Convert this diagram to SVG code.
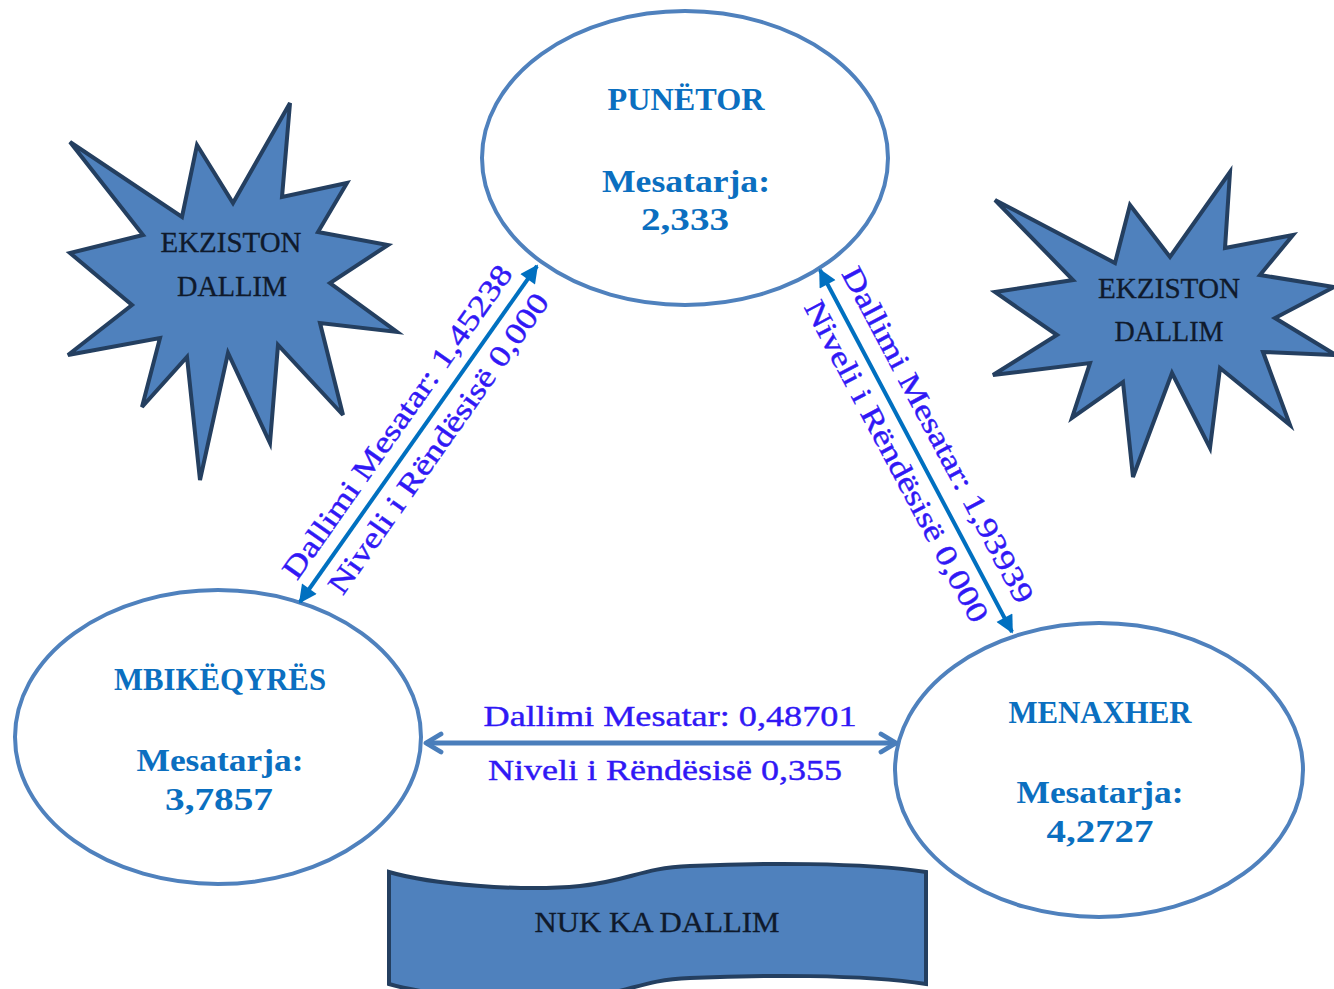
<svg xmlns="http://www.w3.org/2000/svg" width="1334" height="989" viewBox="0 0 1334 989">
<defs>
<style>
.node{fill:#ffffff;stroke:#4f81bd;stroke-width:4}
.burst{fill:#4f81bd;stroke:#243f60;stroke-width:4;stroke-linejoin:miter}
.title{font-family:"Liberation Serif",serif;font-weight:bold;font-size:32px;fill:#0b6fc0;text-anchor:middle}
.dark{font-family:"Liberation Serif",serif;font-size:29px;fill:#0f1a2c;text-anchor:middle;stroke:#0f1a2c;stroke-width:0.3}
.lbl{font-family:"Liberation Serif",serif;font-size:30px;fill:#3018f5;text-anchor:middle;stroke:#3018f5;stroke-width:0.4}
.diag{stroke:#0070c0;stroke-width:4;fill:none}
.hor{stroke:#4a7ebb;stroke-width:5;fill:none}
</style>
<marker id="tri" viewBox="0 0 10 10" refX="9" refY="5" markerWidth="20" markerHeight="18" markerUnits="userSpaceOnUse" orient="auto-start-reverse">
<path d="M0,0 L10,5 L0,10 Z" fill="#0070c0"/>
</marker>
<marker id="chev" viewBox="0 0 12 12" refX="10.5" refY="6" markerWidth="24" markerHeight="24" markerUnits="userSpaceOnUse" orient="auto-start-reverse">
<path d="M3,1.5 L10.5,6 L3,10.5" fill="none" stroke="#4a7ebb" stroke-width="2.4" stroke-linecap="round" stroke-linejoin="round"/>
</marker>
</defs>
<rect width="1334" height="989" fill="#ffffff"/>

<g id="burst-left">
<polygon class="burst" points="70,142 182,217 197,145 233,203 290,103 282,197 347,183 318,232 388,245 330,283 397,332 320,323 343,415 278,345 270,443 228,353 200,480 187,357 142,407 160,338 68,355 132,305 70,253 143,235"/>
<text class="dark" x="231" y="252" textLength="141" lengthAdjust="spacingAndGlyphs">EKZISTON</text>
<text class="dark" x="232" y="296" textLength="110" lengthAdjust="spacingAndGlyphs">DALLIM</text>
</g>

<g id="burst-right">
<polygon class="burst" points="995,200 1115,263 1130,205 1170,257 1230,172 1225,248 1293,235 1260,275 1334,287 1275,318 1336,355 1263,352 1290,425 1220,368 1210,448 1172,373 1133,477 1123,382 1072,418 1090,363 993,375 1057,335 995,292 1073,280"/>
<text class="dark" x="1169" y="298" textLength="142" lengthAdjust="spacingAndGlyphs">EKZISTON</text>
<text class="dark" x="1169" y="341" textLength="109" lengthAdjust="spacingAndGlyphs">DALLIM</text>
</g>

<g id="banner">
<path class="burst" d="M389,872 C430,884 520,892 580,886 C630,881 640,868 690,866 C760,863 860,862 926,872 L926,984 C860,974 760,975 690,978 C640,980 630,993 580,998 C520,1004 430,996 389,984 Z"/>
<text class="dark" x="657" y="932" textLength="245" lengthAdjust="spacingAndGlyphs">NUK KA DALLIM</text>
</g>

<g id="node-punetor">
<ellipse class="node" cx="685" cy="158" rx="203" ry="147"/>
<text class="title" x="686" y="110" textLength="157" lengthAdjust="spacingAndGlyphs">PUNËTOR</text>
<text class="title" x="686" y="192" textLength="168" lengthAdjust="spacingAndGlyphs">Mesatarja:</text>
<text class="title" x="685" y="230" textLength="88" lengthAdjust="spacingAndGlyphs">2,333</text>
</g>

<g id="node-mbikeqyres">
<ellipse class="node" cx="218" cy="737" rx="203" ry="147"/>
<text class="title" x="220" y="690" textLength="212" lengthAdjust="spacingAndGlyphs">MBIKËQYRËS</text>
<text class="title" x="220" y="771" textLength="167" lengthAdjust="spacingAndGlyphs">Mesatarja:</text>
<text class="title" x="219" y="810" textLength="108" lengthAdjust="spacingAndGlyphs">3,7857</text>
</g>

<g id="node-menaxher">
<ellipse class="node" cx="1099" cy="770" rx="204" ry="147"/>
<text class="title" x="1100" y="723" textLength="183" lengthAdjust="spacingAndGlyphs">MENAXHER</text>
<text class="title" x="1100" y="803" textLength="167" lengthAdjust="spacingAndGlyphs">Mesatarja:</text>
<text class="title" x="1100" y="842" textLength="107" lengthAdjust="spacingAndGlyphs">4,2727</text>
</g>

<g id="connectors">
<line class="diag" x1="300" y1="602" x2="537" y2="266" marker-start="url(#tri)" marker-end="url(#tri)"/>
<line class="diag" x1="820" y1="270" x2="1012" y2="632" marker-start="url(#tri)" marker-end="url(#tri)"/>
<line class="hor" x1="426" y1="743" x2="896" y2="743" marker-start="url(#chev)" marker-end="url(#chev)"/>

<g transform="translate(418,434) rotate(-54.8)">
<text class="lbl" x="-2" y="-14" textLength="376" lengthAdjust="spacingAndGlyphs">Dallimi Mesatar: 1,45238</text>
<text class="lbl" x="4" y="32" textLength="360" lengthAdjust="spacingAndGlyphs">Niveli i Rëndësisë 0,000</text>
</g>
<g transform="translate(916,451) rotate(62.06)">
<text class="lbl" x="-4" y="-17" textLength="376" lengthAdjust="spacingAndGlyphs">Dallimi Mesatar: 1,93939</text>
<text class="lbl" x="0" y="32" textLength="360" lengthAdjust="spacingAndGlyphs">Niveli i Rëndësisë 0,000</text>
</g>
<text class="lbl" x="670" y="726" textLength="373" lengthAdjust="spacingAndGlyphs">Dallimi Mesatar: 0,48701</text>
<text class="lbl" x="665" y="780" textLength="354" lengthAdjust="spacingAndGlyphs">Niveli i Rëndësisë 0,355</text>
</g>
</svg>
